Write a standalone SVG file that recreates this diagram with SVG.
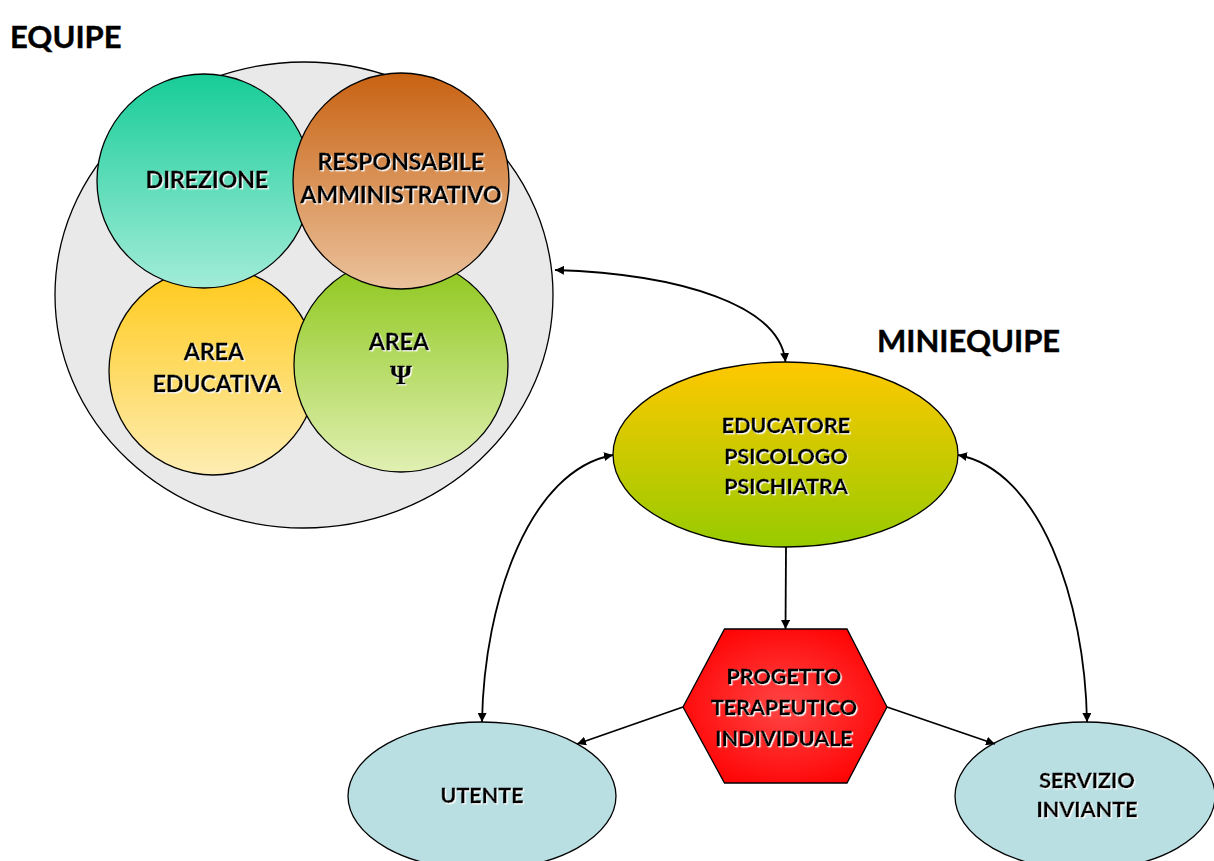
<svg xmlns="http://www.w3.org/2000/svg" width="1214" height="861" viewBox="0 0 1214 861">
<defs>
<style>
.t{font-family:Lato,"Open Sans","Liberation Sans",sans-serif;font-weight:bold;fill:#000;stroke:#000;stroke-width:0.35;text-anchor:middle;filter:url(#sh)}
.n{font-size:23px}
.s{font-size:21.5px}
.h{font-family:Lato,"Open Sans","Liberation Sans",sans-serif;font-weight:bold;font-size:31px;fill:#000;stroke:#000;stroke-width:0.4}
.ln{fill:none;stroke:#000;stroke-width:1.8}
.o{stroke:#000;stroke-width:1.3}
</style>
<filter id="sh" x="-10%" y="-20%" width="120%" height="140%">
<feDropShadow dx="1.2" dy="1.2" stdDeviation="0.3" flood-color="#fff" flood-opacity="1"/>
</filter>
<linearGradient id="gDir" x1="0" y1="0" x2="0" y2="1"><stop offset="0" stop-color="#17cc98"/><stop offset="1" stop-color="#a2ecd8"/></linearGradient>
<linearGradient id="gRes" x1="0" y1="0" x2="0" y2="1"><stop offset="0" stop-color="#c86212"/><stop offset="1" stop-color="#ebc29c"/></linearGradient>
<linearGradient id="gEdu" x1="0" y1="0" x2="0" y2="1"><stop offset="0" stop-color="#ffc918"/><stop offset="1" stop-color="#fdedb2"/></linearGradient>
<linearGradient id="gPsi" x1="0" y1="0" x2="0" y2="1"><stop offset="0" stop-color="#8cc619"/><stop offset="1" stop-color="#e0f0b2"/></linearGradient>
<linearGradient id="gMini" x1="0" y1="0" x2="0" y2="1"><stop offset="0" stop-color="#ffc800"/><stop offset="1" stop-color="#97cb00"/></linearGradient>
<radialGradient id="gHex" cx="0.5" cy="0.5" r="0.6"><stop offset="0" stop-color="#ff4646"/><stop offset="1" stop-color="#ff0000"/></radialGradient>
<marker id="ah" viewBox="0 0 10 10" refX="10" refY="5" markerWidth="9" markerHeight="9" markerUnits="userSpaceOnUse" orient="auto-start-reverse"><path d="M0,0 L10,5 L0,10 z" fill="#000"/></marker>
</defs>
<rect width="1214" height="861" fill="#fff"/>

<text class="h" x="10" y="48">EQUIPE</text>
<text class="h" x="877" y="352">MINIEQUIPE</text>

<g id="equipe">
<ellipse class="o" cx="304" cy="295" rx="249" ry="233" fill="#e9e9e9"/>
</g>
<g id="area-educativa">
<circle class="o" cx="213" cy="371" r="104" fill="url(#gEdu)"/>
<text class="t n" x="214" y="360">AREA</text>
<text class="t n" x="217" y="392">EDUCATIVA</text>
</g>
<g id="area-psi">
<circle class="o" cx="401" cy="365" r="107" fill="url(#gPsi)"/>
<text class="t n" x="399" y="350">AREA</text>
<text class="t" x="401" y="384" style="font-family:'Liberation Serif',serif;font-size:28px">Ψ</text>
</g>
<g id="direzione">
<circle class="o" cx="204" cy="181" r="107" fill="url(#gDir)"/>
<text class="t n" x="207" y="188">DIREZIONE</text>
</g>
<g id="responsabile">
<circle class="o" cx="401" cy="181" r="108" fill="url(#gRes)"/>
<text class="t n" x="401" y="170">RESPONSABILE</text>
<text class="t n" x="401" y="203">AMMINISTRATIVO</text>
</g>

<g id="miniequipe">
<ellipse class="o" cx="785.5" cy="454.5" rx="172.5" ry="92.5" fill="url(#gMini)"/>
<text class="t s" x="786" y="433">EDUCATORE</text>
<text class="t s" x="786" y="464">PSICOLOGO</text>
<text class="t s" x="786" y="494">PSICHIATRA</text>
</g>

<g id="progetto">
<polygon class="o" points="724.5,629 847,629 887,707 847,783 724.5,783 683,707" fill="url(#gHex)"/>
<text class="t s" x="784" y="684">PROGETTO</text>
<text class="t s" x="784" y="715">TERAPEUTICO</text>
<text class="t s" x="784" y="746">INDIVIDUALE</text>
</g>

<g id="utente">
<ellipse class="o" cx="482" cy="796" rx="134" ry="74" fill="#b9dfe3"/>
<text class="t s" x="482" y="803">UTENTE</text>
</g>

<g id="servizio">
<ellipse class="o" cx="1085" cy="796" rx="130" ry="74" fill="#b9dfe3"/>
<text class="t s" x="1087" y="788">SERVIZIO</text>
<text class="t s" x="1087" y="817">INVIANTE</text>
</g>

<g id="connectors">
<path class="ln" d="M555,270 C680,274 780,305 785.5,362" marker-start="url(#ah)" marker-end="url(#ah)"/>
<path class="ln" d="M613,455 C530,470 484,600 482,722" marker-start="url(#ah)" marker-end="url(#ah)"/>
<path class="ln" d="M958,455 C1040,470 1085,600 1087,722" marker-start="url(#ah)" marker-end="url(#ah)"/>
<path class="ln" d="M786,547 L785.5,629" marker-end="url(#ah)"/>
<path class="ln" d="M683,707 L577,744" marker-end="url(#ah)"/>
<path class="ln" d="M887,707 L995,744" marker-end="url(#ah)"/>
</g>
</svg>
